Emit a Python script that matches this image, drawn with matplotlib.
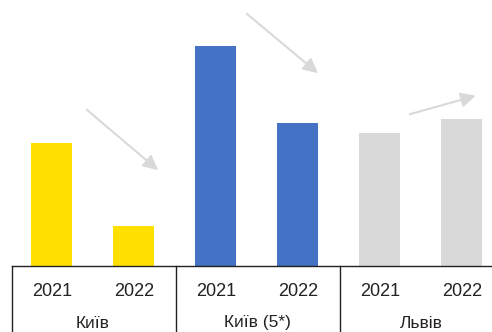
import matplotlib
matplotlib.use('Agg')
import matplotlib.pyplot as plt

# data (arbitrary units)
groups = ['Київ', 'Київ (5*)', 'Львів']
years = ['2021', '2022']
kyiv = [123, 40]
kyiv5 = [220, 143]
lviv = [133, 147]
colors = ['#FFE000', '#4472C4', '#D9D9D9']

plt.rcParams['font.family'] = ['Liberation Sans', 'DejaVu Sans']

fig = plt.figure(figsize=(4.92, 3.32), dpi=100)
ax = fig.add_axes([0, 66 / 332, 1, 266 / 332])
ax.set_xlim(-0.634, 5.366)
ax.set_ylim(0, 266)
ax.axis('off')

series = [kyiv, kyiv5, lviv]
for g, vals in enumerate(series):
    for j, v in enumerate(vals):
        x = g * 2 + j
        ax.bar(x, v, width=0.5, color=colors[g])
        ax.text(x, -26, years[j], ha='center', va='center', fontsize=13, color='#222222', clip_on=False)
    # group label sits at the bottom edge (cut off in the original), nudged up to stay visible
    ax.text(g * 2 + 0.5, -57, groups[g], ha='center', va='center', fontsize=12.5, color='#222222', clip_on=False)

# table lines under the bars
ax.plot([-0.488, 5.4], [0, 0], color='#222222', lw=1, clip_on=False)
for xv in [-0.488, 1.512, 3.512]:
    ax.plot([xv, xv], [0, -70], color='#222222', lw=1, clip_on=False)

# trend arrows
arrows = [((0.40, 158), (1.32, 94)), ((2.35, 254), (3.27, 191)), ((4.33, 151), (5.2, 171))]
for start, end in arrows:
    ax.annotate('', xy=end, xytext=start,
                arrowprops=dict(arrowstyle='-|>', mutation_scale=22, lw=1.5, color='#D9D9D9'))

fig.savefig('out.png', dpi=100)
